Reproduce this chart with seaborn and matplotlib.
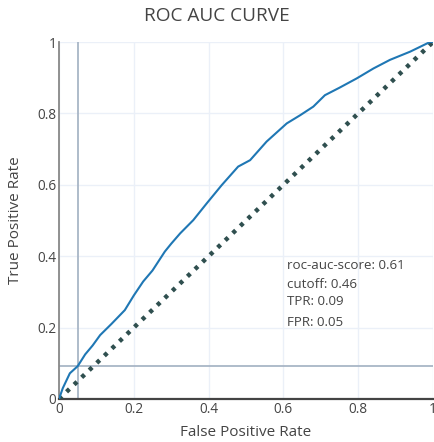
import matplotlib
matplotlib.use("Agg")
import matplotlib.pyplot as plt
import seaborn as sns
import pandas as pd

# ROC curve values
fpr = [0.0, 0.01, 0.029, 0.05, 0.07, 0.09, 0.11, 0.14, 0.176, 0.20, 0.225, 0.25, 0.283, 0.30,
       0.324, 0.359, 0.395, 0.435, 0.479, 0.511, 0.555, 0.609, 0.645, 0.680, 0.711, 0.75,
       0.796, 0.841, 0.885, 0.939, 0.992, 1.0]
tpr = [0.0, 0.03, 0.072, 0.092, 0.125, 0.15, 0.179, 0.21, 0.249, 0.29, 0.329, 0.36, 0.413, 0.435,
       0.464, 0.501, 0.548, 0.599, 0.651, 0.669, 0.721, 0.772, 0.795, 0.819, 0.851, 0.872,
       0.898, 0.926, 0.950, 0.973, 1.0, 1.0]
diag = [0.0, 1.0]

fpr_cut = 0.05
tpr_cut = 0.092
annot_lines = ["roc-auc-score: 0.61", "cutoff: 0.46", "TPR: 0.09", "FPR: 0.05"]
annot_y = [0.373, 0.322, 0.272, 0.213]
annot_x = 0.61
x_ticks = [0, 0.2, 0.4, 0.6, 0.8, 1]
x_tick_labels = ["0", "0.2", "0.4", "0.6", "0.8", "1"]
y_ticks = [0, 0.2, 0.4, 0.6, 0.8, 1]
y_tick_labels = ["0", "0.2", "0.4", "0.6", "0.8", "1"]

sns.set_theme(style="white")
plt.rcParams['font.family'] = ['Open Sans', 'DejaVu Sans']
text_color = "#444444"

fig = plt.figure(figsize=(4.34, 4.42), dpi=100)
ax = fig.add_axes([59 / 434, 43 / 442, 374 / 434, 357 / 442])

df = pd.DataFrame({"fpr": fpr, "tpr": tpr})
ddf = pd.DataFrame({"x": diag, "y": diag})

ax.axvline(fpr_cut, color="#A8B6C6", lw=1.3, zorder=2)
ax.axhline(tpr_cut, color="#A8B6C6", lw=1.3, zorder=2)
sns.lineplot(data=ddf, x="x", y="y", ax=ax, color="#2F4F4F", lw=3.2,
             linestyle=(0, (0.9, 1.45)), zorder=3)
sns.lineplot(data=df, x="fpr", y="tpr", ax=ax, color="#1f77b4", lw=1.5, zorder=4)

for t, yv in zip(annot_lines, annot_y):
    ax.text(annot_x, yv, t, fontsize=9.6, color=text_color, va="center", ha="left")

ax.set_xlim(0, 1)
ax.set_ylim(0, 1)
ax.set_xticks(x_ticks)
ax.set_xticklabels(x_tick_labels)
ax.set_yticks(y_ticks)
ax.set_yticklabels(y_tick_labels)
ax.tick_params(axis="both", labelsize=9.8, colors=text_color, length=0, pad=2)
ax.grid(True, color="#EBF0F8", lw=1)
ax.set_axisbelow(True)
for s in ["top", "right"]:
    ax.spines[s].set_visible(False)
ax.spines["left"].set_color("#888888")
ax.spines["left"].set_linewidth(1.3)
ax.spines["bottom"].set_color("#444444")
ax.spines["bottom"].set_linewidth(1.6)

ax.set_xlabel("False Positive Rate", fontsize=11, color=text_color, labelpad=6)
ax.set_ylabel("True Positive Rate", fontsize=11, color=text_color, labelpad=10)
fig.text(0.5, 0.964, "ROC AUC CURVE", ha="center", va="center", fontsize=13.7, color=text_color)

fig.savefig("out.png", dpi=100)
